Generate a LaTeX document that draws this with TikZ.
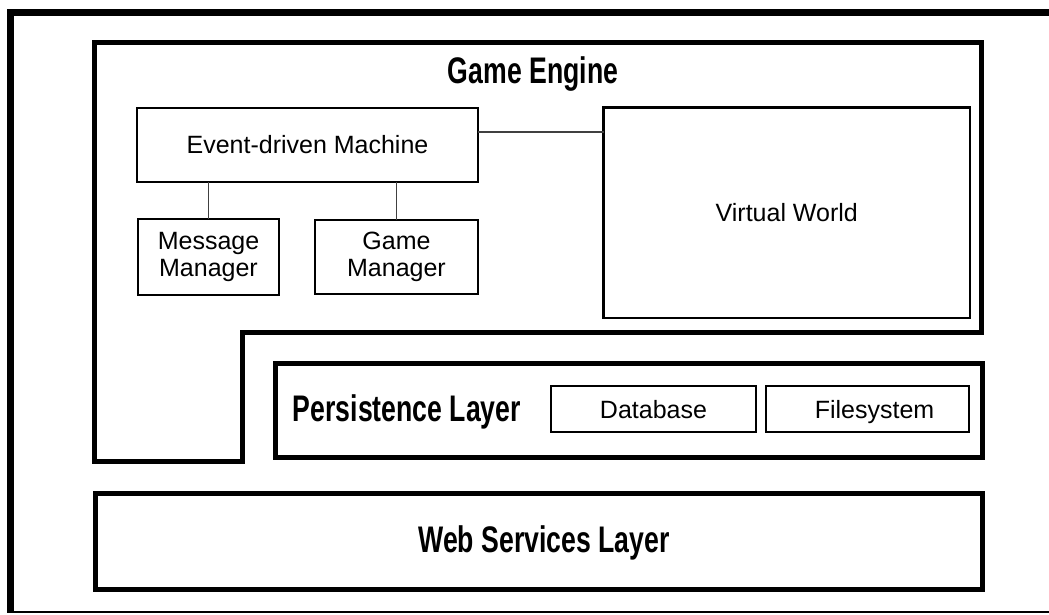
\documentclass[tikz,border=0pt]{standalone}
\usepackage{fontspec}
\setmainfont{Liberation Sans}
\newfontfamily\titlefont{Liberation Sans}[FakeStretch=0.72]
\begin{document}
\begin{tikzpicture}[x=1pt,y=-1pt,
  box/.style={draw=black, line width=2pt, rectangle, inner sep=0pt, outer sep=0pt, align=center,
    font=\fontsize{25}{27.5}\selectfont},
  thinbox/.style={box, line width=1.3pt, text height=18pt, text depth=0pt},
  layer/.style={draw=black, line width=5pt, rectangle, inner sep=0pt, outer sep=0pt},
  title/.style={font=\fontsize{37}{40}\selectfont\titlefont\bfseries, inner sep=0pt, anchor=base},
  conn/.style={draw=black!75, line width=1.2pt}]
\useasboundingbox (0,0) rectangle (1049,614);
\fill[white] (0,0) rectangle (1049,614);
% outer frame
\draw[line width=7pt] (1049,12.5) -- (10.5,12.5) -- (10.5,612);
\draw[line width=2pt] (7,612) -- (1049,612);
% game engine L-shape
\draw[line width=5pt, line join=miter] (94.5,42.5) -- (981.5,42.5) -- (981.5,332) -- (242,332) -- (242,461.5) -- (94.5,461.5) -- cycle;
\node[title] (ge) at (533,83) {Game Engine};
% inner boxes
\node[box, minimum width=341pt, minimum height=74pt] (edm) at (307.5,144.5) {Event-driven Machine};
\node[box, minimum width=141pt, minimum height=76pt] (mm) at (208.5,257) {Message\\Manager};
\node[box, minimum width=163pt, minimum height=74pt] (gm) at (396.5,257) {Game\\Manager};
\node[box, line width=2.6pt, minimum width=366.5pt, minimum height=210.5pt] (vw) at (786.75,212.75) {Virtual World};
\draw[conn] (mm.north) -- (mm.north |- edm.south);
\draw[conn] (gm.north) -- (gm.north |- edm.south);
\draw[conn] (edm.east |- 0,132) -- (vw.west |- 0,132);
% persistence layer
\node[layer, minimum width=706.5pt, minimum height=94.5pt] (pl) at (628.75,410.25) {};
\node[title] (plt) at (407,421) {Persistence Layer};
\node[thinbox, minimum width=205pt, minimum height=46pt] (db) at (653.5,409) {Database};
\node[thinbox, minimum width=203pt, minimum height=46pt] (fs) at (867.5,409) {\hspace*{14pt}Filesystem};
% web services layer
\node[layer, minimum width=887pt, minimum height=96pt] (ws) at (538.5,541.5) {};
\node[title] (wst) at (544,552) {Web Services Layer};
\end{tikzpicture}
\end{document}
